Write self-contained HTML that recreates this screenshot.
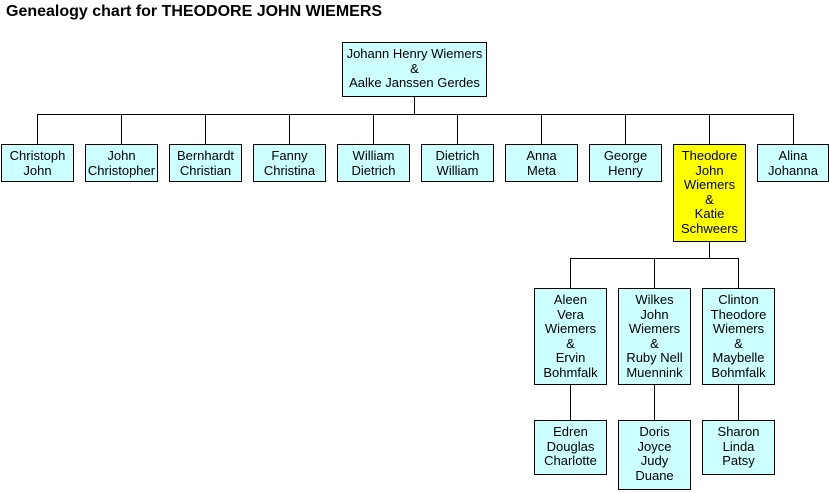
<!DOCTYPE html>
<html><head><style>
body{margin:0;width:829px;height:493px;background:#fff;position:relative;font-family:"Liberation Sans",Arial,sans-serif;overflow:hidden}
.t{position:absolute;left:6px;top:3px;font-weight:bold;font-size:16px;color:#000}
.b{position:absolute;box-sizing:border-box;border:1px solid #000;background:#ccffff;font-size:13px;line-height:14.6px;text-align:center;padding-top:4px;color:#000;white-space:nowrap}
.y{background:#ffff00}
.h,.v{position:absolute;background:#000}
.h{height:1px}.v{width:1px}
</style></head><body>
<div class="t">Genealogy chart for THEODORE JOHN WIEMERS</div>
<div class="b" style="left:342px;top:42px;width:145px;height:55px">Johann Henry Wiemers<br>&amp;<br>Aalke Janssen Gerdes</div>
<div class="v" style="left:414px;top:97px;height:17px"></div>
<div class="h" style="left:37px;top:114px;width:757px"></div>
<div class="v" style="left:37px;top:114px;height:30px"></div>
<div class="v" style="left:121px;top:114px;height:30px"></div>
<div class="v" style="left:205px;top:114px;height:30px"></div>
<div class="v" style="left:289px;top:114px;height:30px"></div>
<div class="v" style="left:373px;top:114px;height:30px"></div>
<div class="v" style="left:457px;top:114px;height:30px"></div>
<div class="v" style="left:541px;top:114px;height:30px"></div>
<div class="v" style="left:625px;top:114px;height:30px"></div>
<div class="v" style="left:709px;top:114px;height:30px"></div>
<div class="v" style="left:793px;top:114px;height:30px"></div>
<div class="b" style="left:1px;top:144px;width:73px;height:38px">Christoph<br>John</div>
<div class="b" style="left:85px;top:144px;width:73px;height:38px">John<br>Christopher</div>
<div class="b" style="left:169px;top:144px;width:73px;height:38px">Bernhardt<br>Christian</div>
<div class="b" style="left:253px;top:144px;width:73px;height:38px">Fanny<br>Christina</div>
<div class="b" style="left:337px;top:144px;width:73px;height:38px">William<br>Dietrich</div>
<div class="b" style="left:421px;top:144px;width:73px;height:38px">Dietrich<br>William</div>
<div class="b" style="left:505px;top:144px;width:73px;height:38px">Anna<br>Meta</div>
<div class="b" style="left:589px;top:144px;width:73px;height:38px">George<br>Henry</div>
<div class="b y" style="left:673px;top:144px;width:73px;height:98px">Theodore<br>John<br>Wiemers<br>&amp;<br>Katie<br>Schweers</div>
<div class="b" style="left:757px;top:144px;width:72px;height:38px">Alina<br>Johanna</div>
<div class="v" style="left:709px;top:242px;height:16px"></div>
<div class="h" style="left:570px;top:258px;width:169px"></div>
<div class="v" style="left:570px;top:258px;height:30px"></div>
<div class="v" style="left:654px;top:258px;height:30px"></div>
<div class="v" style="left:738px;top:258px;height:30px"></div>
<div class="b" style="left:534px;top:288px;width:73px;height:97px">Aleen<br>Vera<br>Wiemers<br>&amp;<br>Ervin<br>Bohmfalk</div>
<div class="b" style="left:618px;top:288px;width:73px;height:97px">Wilkes<br>John<br>Wiemers<br>&amp;<br>Ruby Nell<br>Muennink</div>
<div class="b" style="left:702px;top:288px;width:73px;height:97px">Clinton<br>Theodore<br>Wiemers<br>&amp;<br>Maybelle<br>Bohmfalk</div>
<div class="v" style="left:570px;top:385px;height:35px"></div>
<div class="v" style="left:654px;top:385px;height:35px"></div>
<div class="v" style="left:738px;top:385px;height:35px"></div>
<div class="b" style="left:534px;top:420px;width:73px;height:55px">Edren<br>Douglas<br>Charlotte</div>
<div class="b" style="left:618px;top:420px;width:73px;height:70px">Doris<br>Joyce<br>Judy<br>Duane</div>
<div class="b" style="left:702px;top:420px;width:73px;height:55px">Sharon<br>Linda<br>Patsy</div>
</body></html>
